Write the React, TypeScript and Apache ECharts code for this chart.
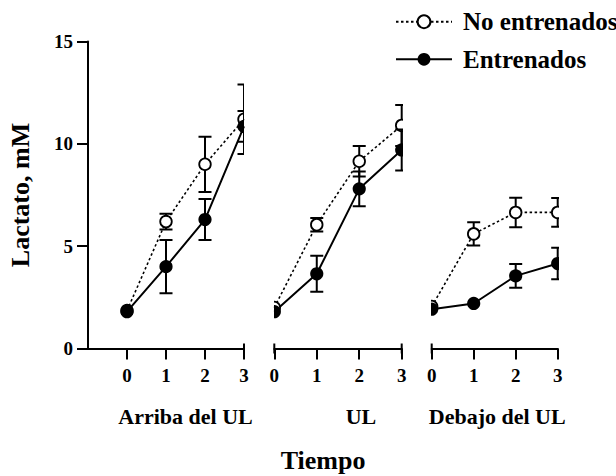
import React, { useEffect, useRef } from "react";
import * as echarts from "echarts";

// Time points (x) shared by the three panels
const times = [0, 1, 2, 3];
const panelTitles = ["Arriba del UL", "UL", "Debajo del UL"];
const seriesNames = ["No entrenados", "Entrenados"];
const yTicks = [0, 5, 10, 15];

// Lactate, mM — mean and error bar half-length for each time point
const arribaNoEntrenados = [1.85, 6.2, 9.0, 11.2];
const arribaNoEntrenadosErr = [0, 0.38, 1.35, 1.7];
const arribaEntrenados = [1.8, 4.0, 6.3, 10.85];
const arribaEntrenadosErr = [0, 1.3, 1.0, 0.75];

const ulNoEntrenados = [2.0, 6.05, 9.15, 10.9];
const ulNoEntrenadosErr = [0, 0.33, 0.75, 1.0];
const ulEntrenados = [1.8, 3.65, 7.8, 9.7];
const ulEntrenadosErr = [0, 0.88, 0.85, 1.0];

const debajoNoEntrenados = [2.05, 5.6, 6.65, 6.65];
const debajoNoEntrenadosErr = [0, 0.57, 0.72, 0.7];
const debajoEntrenados = [1.92, 2.2, 3.55, 4.15];
const debajoEntrenadosErr = [0, 0, 0.58, 0.77];

const untrained = [arribaNoEntrenados, ulNoEntrenados, debajoNoEntrenados];
const untrainedErr = [arribaNoEntrenadosErr, ulNoEntrenadosErr, debajoNoEntrenadosErr];
const trained = [arribaEntrenados, ulEntrenados, debajoEntrenados];
const trainedErr = [arribaEntrenadosErr, ulEntrenadosErr, debajoEntrenadosErr];

const FONT = "'Liberation Serif', 'Times New Roman', serif";
const BLACK = "#000";

const grids = [
  { left: 88, width: 156 },
  { left: 274.3, width: 127.4 },
  { left: 431.7, width: 126 },
];
const xMins = [-1, 0, 0];
const endStubs = [
  ["none", "rect"],
  ["rect", "rect"],
  ["rect", "none"],
];
const titlePad = [39, 46, 5];

function markerSeries(panel: number, means: number[], errs: number[], filled: boolean) {
  return {
    type: "custom",
    xAxisIndex: panel,
    yAxisIndex: panel,
    clip: true,
    z: filled ? 4 : 3,
    data: times.map((t, i) => [t, means[i], errs[i]]),
    renderItem: (_params: any, api: any) => {
      const x = api.value(0);
      const y = api.value(1);
      const e = api.value(2);
      const c = api.coord([x, y]);
      const children: any[] = [];
      if (e > 0) {
        const top = api.coord([x, y + e]);
        const bot = api.coord([x, y - e]);
        const st = { stroke: BLACK, lineWidth: 2 };
        children.push({ type: "line", shape: { x1: c[0], y1: top[1], x2: c[0], y2: bot[1] }, style: st });
        children.push({ type: "line", shape: { x1: c[0] - 6.5, y1: top[1], x2: c[0] + 6.5, y2: top[1] }, style: st });
        children.push({ type: "line", shape: { x1: c[0] - 6.5, y1: bot[1], x2: c[0] + 6.5, y2: bot[1] }, style: st });
      }
      children.push({
        type: "circle",
        shape: { cx: c[0], cy: c[1], r: filled ? 6.6 : 5.8 },
        style: { fill: filled ? BLACK : "#fff", stroke: BLACK, lineWidth: filled ? 0 : 1.8 },
      });
      return { type: "group", children };
    },
  };
}

export default function App() {
  const ref = useRef<HTMLDivElement>(null);

  useEffect(() => {
    if (!ref.current) return;
    const chart = echarts.init(ref.current, null, { renderer: "svg" });

    const xAxis = grids.map((_, i) => ({
      gridIndex: i,
      type: "value",
      min: xMins[i],
      max: 3,
      interval: 1,
      axisLine: {
        show: true,
        onZero: false,
        lineStyle: { color: BLACK, width: 2 },
        symbol: endStubs[i],
        symbolSize: [10, 2],
      },
      axisTick: { show: true, length: 11, customValues: times, lineStyle: { color: BLACK, width: 2 } },
      axisLabel: {
        customValues: times,
        margin: 17,
        fontSize: 19,
        fontWeight: "bold",
        fontFamily: FONT,
        color: BLACK,
      },
      splitLine: { show: false },
      name: panelTitles[i],
      nameLocation: "middle",
      nameGap: 67.5,
      nameTextStyle: {
        fontSize: 22,
        fontWeight: "bold",
        fontFamily: FONT,
        color: BLACK,
        verticalAlign: "middle",
        padding: [0, 0, 0, titlePad[i]],
      },
    }));

    const yAxis = grids.map((_, i) => ({
      gridIndex: i,
      type: "value",
      min: yTicks[0],
      max: yTicks[yTicks.length - 1],
      interval: 5,
      show: i === 0,
      axisLine: { show: true, onZero: false, lineStyle: { color: BLACK, width: 2 } },
      axisTick: { show: true, length: 11, lineStyle: { color: BLACK, width: 2 } },
      axisLabel: { margin: 15, fontSize: 19, fontWeight: "bold", fontFamily: FONT, color: BLACK },
      splitLine: { show: false },
      name: i === 0 ? "Lactato, mM" : "",
      nameLocation: "middle",
      nameRotate: 90,
      nameGap: 68,
      nameTextStyle: {
        fontSize: 26,
        fontWeight: "bold",
        fontFamily: FONT,
        color: BLACK,
        verticalAlign: "middle",
      },
    }));

    const lineSeries: any[] = [];
    const marks: any[] = [];
    grids.forEach((_, i) => {
      lineSeries.push({
        type: "line",
        name: seriesNames[0],
        xAxisIndex: i,
        yAxisIndex: i,
        data: times.map((t, k) => [t, untrained[i][k]]),
        symbol: "emptyCircle",
        showSymbol: false,
        itemStyle: { color: BLACK },
        lineStyle: { color: BLACK, width: 1.6, type: [2.5, 2.5] },
        z: 2,
      });
      lineSeries.push({
        type: "line",
        name: seriesNames[1],
        xAxisIndex: i,
        yAxisIndex: i,
        data: times.map((t, k) => [t, trained[i][k]]),
        symbol: "circle",
        showSymbol: false,
        itemStyle: { color: BLACK },
        lineStyle: { color: BLACK, width: 2, type: "solid" },
        z: 2,
      });
      marks.push(markerSeries(i, untrained[i], untrainedErr[i], false));
      marks.push(markerSeries(i, trained[i], trainedErr[i], true));
    });

    chart.setOption({
      animation: false,
      backgroundColor: "#fff",
      grid: grids.map((g) => ({ left: g.left, width: g.width, top: 41.5, height: 307 })),
      xAxis,
      yAxis,
      legend: {
        data: seriesNames,
        orient: "vertical",
        left: 395,
        top: 9.2,
        padding: 0,
        itemWidth: 56,
        itemHeight: 16,
        itemGap: 12.6,
        selectedMode: false,
        textStyle: {
          fontSize: 25,
          fontWeight: "bold",
          fontFamily: FONT,
          color: BLACK,
          lineHeight: 25,
          padding: [0, 0, 0, 6],
        },
      },
      graphic: [
        {
          type: "text",
          x: 323,
          y: 460,
          style: {
            text: "Tiempo",
            align: "center",
            verticalAlign: "middle",
            font: `bold 26px ${FONT}`,
            fill: BLACK,
          },
        },
      ],
      series: [...lineSeries, ...marks],
    });

    return () => chart.dispose();
  }, []);

  return (
    <div
      ref={ref}
      style={{ position: "fixed", left: 0, top: 0, width: 616, height: 476, background: "#fff" }}
    />
  );
}
